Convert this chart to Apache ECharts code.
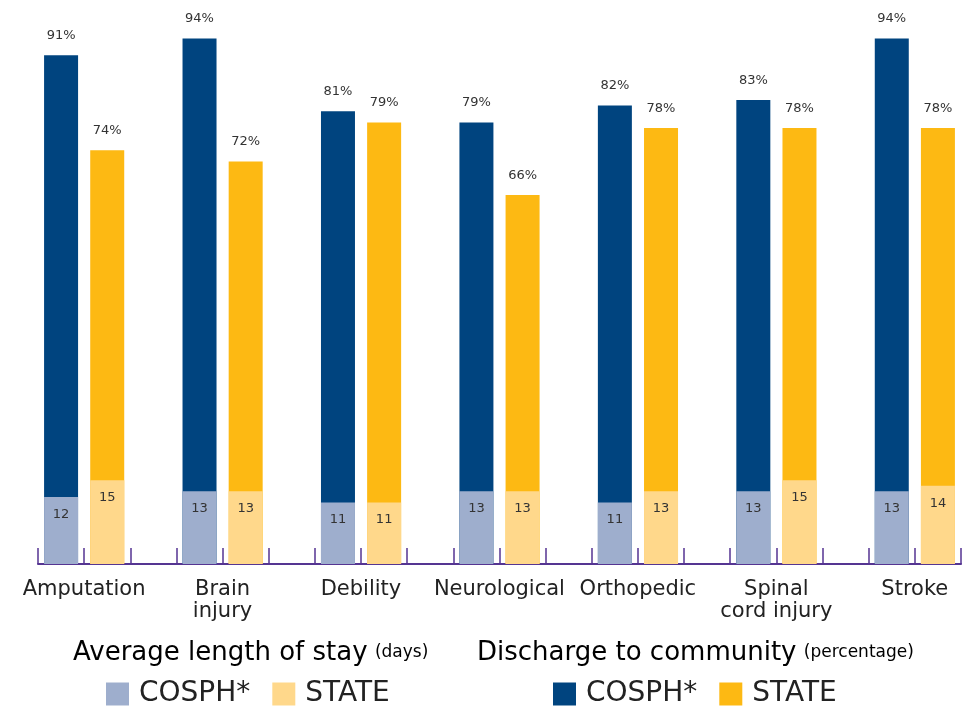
<!DOCTYPE html>
<html>
<head>
<meta charset="utf-8">
<script src="https://cdn.jsdelivr.net/npm/echarts@6/dist/echarts.min.js"></script>
<style>html,body{margin:0;padding:0;background:#fff}#c{width:972px;height:709px}</style>
</head>
<body>
<div id="c"></div>
<script>
const categories = ['Amputation', 'Brain\ninjury', 'Debility', 'Neurological', 'Orthopedic', 'Spinal\ncord injury', 'Stroke'];
const cosphDays = [12, 13, 11, 13, 11, 13, 13];
const stateDays = [15, 13, 11, 13, 13, 15, 14];
const cosphDischarge = [91, 94, 81, 79, 82, 83, 94];
const stateDischarge = [74, 72, 79, 66, 78, 78, 78];

const FONT = '"DejaVu Sans", sans-serif';
const C_DARKBLUE = '#00447f', C_YELLOW = '#fdb913', C_LIGHTBLUE = '#9eaecd', C_LIGHTYELLOW = '#ffd88b';

// 3 slots per category (COSPH, STATE, gap), last gap dropped
const slots = [];
categories.forEach((c, i) => {
  slots.push(c + '|0', c + '|1');
  if (i < categories.length - 1) slots.push(c + '|2');
});
function place(values, offset) {
  const arr = slots.map(() => '-');
  values.forEach((v, i) => { arr[i * 3 + offset] = v; });
  return arr;
}

const pctLabel = { show: true, position: 'top', distance: 13, formatter: '{c}%', fontFamily: FONT, fontSize: 13, color: '#333' };
const dayLabel = { show: true, position: 'insideTop', distance: 11, formatter: '{c}', fontFamily: FONT, fontSize: 13, color: '#333' };

const chart = echarts.init(document.getElementById('c'));
chart.setOption({
  animation: false,
  grid: { left: 38, right: 11, top: 5, bottom: 145, containLabel: false, outerBoundsMode: 'none' },
  xAxis: {
    type: 'category',
    data: slots,
    boundaryGap: true,
    axisLine: { lineStyle: { color: '#553592', width: 2 } },
    axisTick: { show: true, inside: true, length: 16, interval: 0, lineStyle: { color: '#553592', width: 1.5 } },
    axisLabel: {
      interval: (i) => i % 3 === 0,
      formatter: (v) => v.split('|')[0],
      padding: [0, 0, 0, 46],
      margin: 15,
      fontFamily: FONT,
      fontSize: 21,
      lineHeight: 22,
      color: '#222',
      hideOverlap: false
    }
  },
  yAxis: { type: 'value', min: 0, max: 100, show: false, splitLine: { show: false } },
  legend: [
    {
      data: ['COSPH* days', 'STATE days'],
      left: 101, top: 675,
      icon: 'rect', itemWidth: 23, itemHeight: 23, itemGap: 22,
      formatter: (n) => n.split(' ')[0],
      textStyle: { fontFamily: FONT, fontSize: 28, color: '#222', padding: [0, 0, 0, 5] }
    },
    {
      data: ['COSPH* discharge', 'STATE discharge'],
      left: 548, top: 675,
      icon: 'rect', itemWidth: 23, itemHeight: 23, itemGap: 22,
      formatter: (n) => n.split(' ')[0],
      textStyle: { fontFamily: FONT, fontSize: 28, color: '#222', padding: [0, 0, 0, 5] }
    }
  ],
  graphic: [
    {
      type: 'text', left: 73, top: 640,
      style: {
        text: '{a|Average length of stay} {b|(days)}',
        rich: {
          a: { fontFamily: FONT, fontSize: 26, color: '#222' },
          b: { fontFamily: FONT, fontSize: 17, color: '#222', padding: [0, 0, 0, 4] }
        }
      }
    },
    {
      type: 'text', left: 477, top: 640,
      style: {
        text: '{a|Discharge to community} {b|(percentage)}',
        rich: {
          a: { fontFamily: FONT, fontSize: 26, color: '#222' },
          b: { fontFamily: FONT, fontSize: 17, color: '#222', padding: [0, 0, 0, 4] }
        }
      }
    }
  ],
  series: [
    { name: 'COSPH* discharge', type: 'bar', barWidth: 34, barGap: '-100%', data: place(cosphDischarge, 0), itemStyle: { color: C_DARKBLUE }, label: pctLabel },
    { name: 'STATE discharge', type: 'bar', barWidth: 34, barGap: '-100%', data: place(stateDischarge, 1), itemStyle: { color: C_YELLOW }, label: pctLabel },
    { name: 'COSPH* days', type: 'bar', barWidth: 34, barGap: '-100%', data: place(cosphDays, 0), itemStyle: { color: C_LIGHTBLUE }, label: dayLabel },
    { name: 'STATE days', type: 'bar', barWidth: 34, barGap: '-100%', data: place(stateDays, 1), itemStyle: { color: C_LIGHTYELLOW }, label: dayLabel }
  ]
});
</script>
</body>
</html>
